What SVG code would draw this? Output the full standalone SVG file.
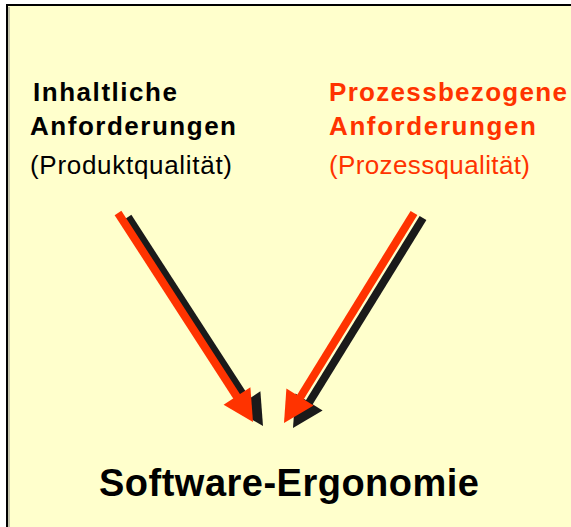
<svg xmlns="http://www.w3.org/2000/svg" width="571" height="527" viewBox="0 0 571 527">
<style>
.b{font-family:"Liberation Sans",Arial,sans-serif;font-weight:bold;font-size:26px}
.r{font-family:"Liberation Sans",Arial,sans-serif;font-size:26px}
.red{fill:#FF3300}
.blk{fill:#000}
.shaft{stroke-width:8;stroke-linecap:butt;fill:none}
</style>
<rect x="0" y="0" width="571" height="527" fill="#FFFFFF"/>
<rect x="7" y="5" width="620" height="600" fill="#FFFFCC" stroke="#000" stroke-width="2"/>
<line x1="9" y1="7" x2="9" y2="527" stroke="#888" stroke-width="1"/>
<g id="connectors">
  <g id="arrow-left">
    <g transform="translate(10,4)">
      <line class="shaft" x1="118" y1="213" x2="239" y2="400" stroke="#1a1a1a"/>
      <polygon points="253,422 223.6,404.7 250.4,387.3" fill="#1a1a1a"/>
    </g>
    <line class="shaft" x1="118" y1="213" x2="239" y2="400" stroke="#FF3300"/>
    <polygon points="253,422 223.6,404.7 250.4,387.3" fill="#FF3300"/>
  </g>
  <g id="arrow-right">
    <g transform="translate(9,5)">
      <line class="shaft" x1="414" y1="213" x2="298" y2="401" stroke="#1a1a1a"/>
      <polygon points="284,423 313.6,405.4 286.4,388.6" fill="#1a1a1a"/>
    </g>
    <line class="shaft" x1="414" y1="213" x2="298" y2="401" stroke="#FF3300"/>
    <polygon points="284,423 313.6,405.4 286.4,388.6" fill="#FF3300"/>
  </g>
</g>
<g id="node-inhaltlich">
  <text class="b blk" x="33" y="101" textLength="144" lengthAdjust="spacing">Inhaltliche</text>
  <text class="b blk" x="30" y="135" textLength="206" lengthAdjust="spacing">Anforderungen</text>
  <text class="r blk" x="30" y="174" textLength="202" lengthAdjust="spacing">(Produktqualität)</text>
</g>
<g id="node-prozess">
  <text class="b red" x="329" y="101" textLength="238" lengthAdjust="spacing">Prozessbezogene</text>
  <text class="b red" x="329" y="135" textLength="207" lengthAdjust="spacing">Anforderungen</text>
  <text class="r red" x="329" y="174" textLength="201" lengthAdjust="spacing">(Prozessqualität)</text>
</g>
<g id="node-ergonomie">
  <text class="b blk" x="99" y="496" style="font-size:38px" textLength="380" lengthAdjust="spacing">Software-Ergonomie</text>
</g>
</svg>
